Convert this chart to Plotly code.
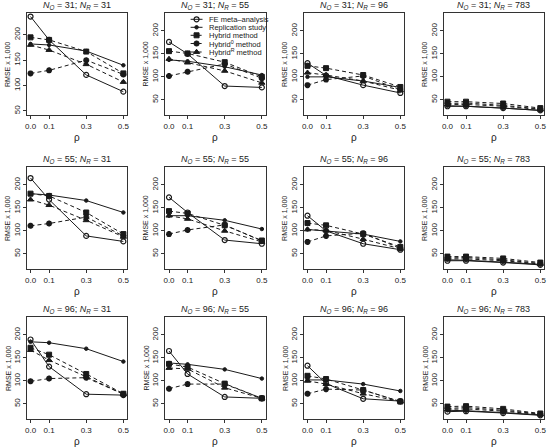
import plotly.graph_objects as go

W, H = 547, 448
rho = [0.0, 0.1, 0.3, 0.5]
rho_labels = ["0.0", "0.1", "0.3", "0.5"]
n_orig = [31, 55, 96]
n_rep = [31, 55, 96, 783]
y_ticks = [50, 100, 150, 200]

# RMSE x 1000 per panel (row-major: N_O rows, N_R columns), values at rho
fe_meta = [
    [236, 190, 121, 88], [176, 150, 80, 77], [130, 103, 82, 65], [36, 36, 32, 27],
    [215, 168, 89, 77], [173, 140, 80, 72], [133, 100, 72, 59], [35, 35, 31, 26],
    [190, 131, 71, 69], [165, 115, 65, 62], [133, 94, 61, 56], [33, 34, 30, 25],
]
replication = [
    [182, 180, 168, 140], [137, 134, 122, 104], [100, 100, 91, 77], [37, 36, 32, 27],
    [181, 178, 166, 140], [133, 133, 123, 104], [103, 100, 93, 77], [37, 36, 32, 27],
    [185, 183, 170, 142], [139, 136, 125, 105], [102, 102, 93, 78], [36, 35, 31, 26],
]
hybrid = [
    [195, 190, 167, 124], [156, 151, 132, 100], [124, 119, 104, 78], [46, 46, 42, 32],
    [181, 176, 140, 93], [143, 138, 112, 79], [117, 112, 93, 65], [44, 44, 40, 31],
    [172, 157, 115, 72], [137, 130, 94, 62], [111, 104, 80, 55], [44, 45, 39, 29],
]
hybrid_0 = [
    [124, 130, 150, 122], [102, 111, 128, 97], [82, 94, 102, 72], [42, 43, 38, 30],
    [111, 116, 130, 89], [93, 102, 113, 78], [76, 89, 95, 62], [41, 42, 37, 29],
    [99, 105, 107, 71], [83, 93, 93, 62], [72, 82, 80, 55], [40, 42, 36, 28],
]
hybrid_r = [
    [180, 170, 142, 107], [139, 131, 113, 87], [109, 104, 91, 71], [40, 40, 36, 29],
    [168, 156, 123, 87], [133, 126, 100, 76], [103, 101, 82, 61], [39, 39, 35, 28],
    [167, 145, 109, 71], [128, 126, 85, 62], [100, 93, 72, 55], [38, 39, 34, 27],
]

series_names = ["FE meta–analysis", "Replication study", "Hybrid method",
                "Hybrid<sup>0</sup> method", "Hybrid<sup>R</sup> method"]
series_data = [fe_meta, replication, hybrid, hybrid_0, hybrid_r]
series_style = [
    dict(dash="solid", symbol="circle-open", size=5, lw=1.2),
    dict(dash="solid", symbol="circle", size=3.5, lw=1),
    dict(dash="4px,3px", symbol="square", size=5, lw=1),
    dict(dash="4px,3px", symbol="asterisk-open", size=5, lw=1.9),
    dict(dash="4px,3px", symbol="triangle-up", size=5.5, lw=1),
]

FONT = "Liberation Sans, Arial, sans-serif"
INK = "#1a1a1a"
col_x0 = [25, 164.5, 304, 445]
row_y0 = [13, 167, 317]
PW, PH = 101, 102
y_range_default = [17, 239]
y_range_first = [42, 243]

fig = go.Figure()
annotations = []
layout = dict(width=W, height=H, margin=dict(l=0, r=0, t=0, b=0),
              paper_bgcolor="white", plot_bgcolor="rgba(0,0,0,0)", showlegend=False,
              font=dict(family=FONT, color=INK))

k = 0
for r, no in enumerate(n_orig):
    for c, nr in enumerate(n_rep):
        k += 1
        idx = r * 4 + c
        x0 = col_x0[c]
        y0 = row_y0[r]
        xa = "xaxis" if k == 1 else f"xaxis{k}"
        ya = "yaxis" if k == 1 else f"yaxis{k}"
        xref = "x" if k == 1 else f"x{k}"
        yref = "y" if k == 1 else f"y{k}"
        layout[xa] = dict(domain=[x0 / W, (x0 + PW) / W], range=[-0.02, 0.52],
                          anchor=yref, tickvals=rho, ticktext=rho_labels,
                          ticks="outside", ticklen=3, tickwidth=1, tickcolor="#333",
                          showline=True, linecolor="#333", linewidth=1, mirror=True,
                          showgrid=False, zeroline=False,
                          tickfont=dict(size=8, family=FONT, color=INK))
        layout[ya] = dict(domain=[1 - (y0 + PH) / H, 1 - y0 / H],
                          range=y_range_first if k == 1 else y_range_default,
                          anchor=xref, tickvals=y_ticks, tickangle=-90,
                          ticks="outside", ticklen=3, tickwidth=1, tickcolor="#333",
                          showline=True, linecolor="#333", linewidth=1, mirror=True,
                          showgrid=False, zeroline=False,
                          tickfont=dict(size=8, family=FONT, color=INK))
        for name, data, st in zip(series_names, series_data, series_style):
            fig.add_trace(go.Scatter(
                x=rho, y=data[idx], mode="lines+markers", name=name,
                xaxis=xref, yaxis=yref,
                line=dict(color=INK, width=1, dash=st["dash"]),
                marker=dict(symbol=st["symbol"], size=st["size"], color=INK,
                            line=dict(color=INK, width=st["lw"]))))
        cx = (x0 + PW / 2) / W
        annotations.append(dict(
            text=f"<i>N</i><sub><i>O</i></sub> = {no}; <i>N</i><sub><i>R</i></sub> = {nr}",
            xref="paper", yref="paper", x=cx, y=1 - (y0 - 8) / H,
            showarrow=False, font=dict(size=9, family=FONT, color=INK),
            xanchor="center", yanchor="middle"))
        annotations.append(dict(
            text="ρ", xref="paper", yref="paper", x=cx, y=1 - (y0 + PH + 22) / H,
            showarrow=False, font=dict(size=10, family=FONT, color=INK),
            xanchor="center", yanchor="middle"))
        annotations.append(dict(
            text="RMSE x 1,000", xref="paper", yref="paper", x=(x0 - 19) / W,
            y=1 - (y0 + PH / 2) / H, textangle=-90,
            showarrow=False, font=dict(size=7, family=FONT, color=INK),
            xanchor="center", yanchor="middle"))

# manual legend inside panel (1,2), drawn on a small helper axis in pixel units
LX0, LX1, LY0, LY1 = 186, 265, 14, 58
leg_x = [190, 202]
leg_rows = [19.3, 27.3, 35.3, 43.5, 52]
layout["xaxis13"] = dict(domain=[LX0 / W, LX1 / W], range=[LX0, LX1], visible=False,
                         fixedrange=True, anchor="y13")
layout["yaxis13"] = dict(domain=[1 - LY1 / H, 1 - LY0 / H], range=[LY1, LY0],
                         visible=False, fixedrange=True, anchor="x13")
for name, st, yy in zip(series_names, series_style, leg_rows):
    fig.add_trace(go.Scatter(
        x=leg_x, y=[yy, yy], mode="lines", xaxis="x13", yaxis="y13",
        line=dict(color=INK, width=1, dash=st["dash"]), hoverinfo="skip"))
    fig.add_trace(go.Scatter(
        x=[(leg_x[0] + leg_x[1]) / 2], y=[yy], mode="markers", xaxis="x13", yaxis="y13",
        marker=dict(symbol=st["symbol"], size=st["size"], color=INK,
                    line=dict(color=INK, width=st["lw"])), hoverinfo="skip"))
    annotations.append(dict(
        text=name, xref="x13", yref="y13", x=207, y=yy, showarrow=False,
        xanchor="left", yanchor="middle", font=dict(size=7.5, family=FONT, color=INK)))

layout["annotations"] = annotations
fig.update_layout(**layout)
fig.write_html("out.html", config={"displayModeBar": False, "staticPlot": True},
               post_script="document.body.style.margin='0';"
                           "document.documentElement.style.overflow='hidden';")
